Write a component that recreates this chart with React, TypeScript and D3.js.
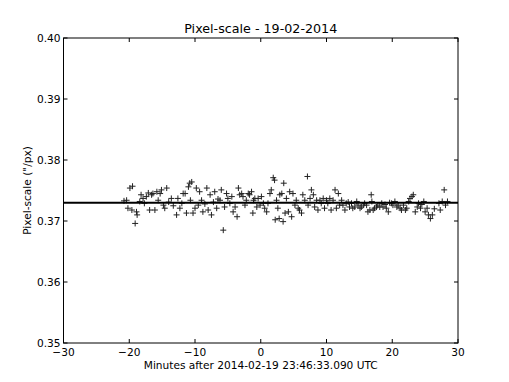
import React from 'react';
import * as d3 from 'd3';

// minutes after reference time
const minutes = [
  -20.8, -20.4, -20.2, -19.9, -19.5, -19.6, -19.1, -18.9, -18.8, -18.4, -18.2, -17.9, -17.7, -17.4, -17.1, -16.9,
  -16.6, -16.4, -16.1, -15.8, -15.6, -15.3, -15.1, -14.8, -14.6, -14.3, -14.0, -13.6, -13.3, -12.8, -12.6, -12.3,
  -12.0, -11.8, -11.5, -11.3, -11.0, -10.8, -10.7, -10.5, -10.3, -10.0, -9.8, -9.5, -9.3, -9.0, -8.8, -8.5,
  -8.2, -8.0, -7.7, -7.5, -7.2, -7.0, -6.7, -6.5, -6.2, -6.0, -5.7, -5.5, -5.2, -5.0, -4.7, -4.4,
  -4.2, -3.9, -3.6, -3.4, -3.2, -2.9, -2.7, -2.4, -2.2, -1.9, -1.7, -1.4, -1.2, -1.1, -0.9, -0.6,
  -0.4, -0.1, 0.1, 0.4, 0.6, 0.9, 1.1, 1.4, 1.6, 1.9, 2.1, 2.2, 2.4, 2.6, 2.8, 2.9,
  3.2, 3.4, 3.5, 3.7, 3.9, 4.2, 4.4, 4.7, 4.9, 5.2, 5.4, 5.7, 5.9, 6.2, 6.4, 6.7,
  7.1, 7.2, 7.5, 7.7, 8.0, 8.2, 8.5, 8.7, 9.0, 9.2, 9.5, 9.7, 10.0, 10.2, 10.5, 10.7,
  11.0, 11.3, 11.5, 11.8, 12.0, 12.3, 12.5, 12.8, 13.0, 13.3, 13.5, 13.8, 14.0, 14.3, 14.6, 14.8,
  15.1, 15.3, 15.6, 15.8, 16.1, 16.3, 16.6, 16.8, 16.9, 17.1, 17.3, 17.6, 17.8, 18.1, 18.4, 18.6,
  18.9, 19.1, 19.4, 19.6, 19.9, 20.1, 20.4, 20.7, 20.9, 21.2, 21.4, 21.7, 22.0, 22.2, 22.5, 22.7,
  23.0, 23.2, 23.5, 23.8, 24.0, 24.3, 24.5, 24.8, 25.0, 25.3, 25.5, 25.8, 26.1, 26.4, 27.1, 27.3,
  27.6, 27.9, 28.1, 28.4,
];

// measured pixel scale ("/px)
const pixelScale = [
  0.3733, 0.3734, 0.3721, 0.3754, 0.3757, 0.3718, 0.3696, 0.3715, 0.3710, 0.3732, 0.3743, 0.3737, 0.3729, 0.3740, 0.3746, 0.3718,
  0.3743, 0.3745, 0.3718, 0.3748, 0.3734, 0.3745, 0.3751, 0.3726, 0.3721, 0.3754, 0.3731, 0.3737, 0.3725, 0.3710, 0.3737, 0.3721,
  0.3729, 0.3745, 0.3745, 0.3713, 0.3756, 0.3762, 0.3734, 0.3764, 0.3713, 0.3721, 0.3754, 0.3726, 0.3748, 0.3734, 0.3715, 0.3728,
  0.3754, 0.3718, 0.3743, 0.3710, 0.3731, 0.3748, 0.3721, 0.3736, 0.3734, 0.3751, 0.3685, 0.3723, 0.3745, 0.3737, 0.3729, 0.3740,
  0.3715, 0.3723, 0.3707, 0.3754, 0.3743, 0.3745, 0.3740, 0.3726, 0.3734, 0.3745, 0.3743, 0.3748, 0.3713, 0.3734, 0.3737, 0.3723,
  0.3737, 0.3726, 0.3740, 0.3729, 0.3721, 0.3715, 0.3729, 0.3745, 0.3751, 0.3771, 0.3767, 0.3702, 0.3734, 0.3721, 0.3704, 0.3743,
  0.3745, 0.3699, 0.3762, 0.3713, 0.3737, 0.3715, 0.3748, 0.3707, 0.3745, 0.3726, 0.3734, 0.3721, 0.3718, 0.3713, 0.3743, 0.3734,
  0.3773, 0.3726, 0.3737, 0.3751, 0.3743, 0.3723, 0.3734, 0.3718, 0.3734, 0.3729, 0.3737, 0.3721, 0.3734, 0.3729, 0.3737, 0.3718,
  0.3734, 0.3751, 0.3721, 0.3745, 0.3726, 0.3734, 0.3726, 0.3718, 0.3729, 0.3731, 0.3723, 0.3729, 0.3721, 0.3723, 0.3732, 0.3726,
  0.3721, 0.3723, 0.3726, 0.3729, 0.3726, 0.3715, 0.3718, 0.3743, 0.3732, 0.3718, 0.3721, 0.3723, 0.3726, 0.3723, 0.3729, 0.3723,
  0.3727, 0.3721, 0.3715, 0.3730, 0.3729, 0.3726, 0.3732, 0.3723, 0.3726, 0.3721, 0.3718, 0.3726, 0.3718, 0.3721, 0.3732, 0.3737,
  0.3740, 0.3743, 0.3715, 0.3723, 0.3729, 0.3721, 0.3727, 0.3732, 0.3715, 0.3721, 0.3710, 0.3704, 0.3710, 0.3720, 0.3729, 0.3718,
  0.3732, 0.3751, 0.3726, 0.3732,
];

const meanScale = 0.373;
const xTicks = [-30, -20, -10, 0, 10, 20, 30];
const yTicks = [0.35, 0.36, 0.37, 0.38, 0.39, 0.40];

const W = 509;
const H = 382;
const margin = { left: 63.5, right: 51, top: 38, bottom: 39 };
const font = '"DejaVu Sans", sans-serif';

export default function App() {
  const x = d3.scaleLinear().domain([-30, 30]).range([margin.left, W - margin.right]);
  const y = d3.scaleLinear().domain([0.35, 0.4]).range([H - margin.bottom, margin.top]);
  const [x0, x1] = x.range();
  const [y0, y1] = y.range();
  const tick = 4;
  const m = 3;

  return (
    <svg width={W} height={H} style={{ position: 'absolute', left: 0, top: 0, background: '#fff' }}>
      <text x={(x0 + x1) / 2} y={33} textAnchor="middle" fontFamily={font} fontSize={12.7}>
        Pixel-scale - 19-02-2014
      </text>

      {/* points */}
      <g stroke="#222" strokeWidth={1}>
        {minutes.map((t, i) => {
          const cx = x(t);
          const cy = y(pixelScale[i]);
          return (
            <path key={i} d={`M${cx - m},${cy}H${cx + m}M${cx},${cy - m}V${cy + m}`} />
          );
        })}
      </g>

      {/* fitted value */}
      <line x1={x0} x2={x1} y1={y(meanScale)} y2={y(meanScale)} stroke="#000" strokeWidth={2} />

      {/* frame */}
      <rect x={x0} y={y1} width={x1 - x0} height={y0 - y1} fill="none" stroke="#000" strokeWidth={1} />

      {xTicks.map((t) => (
        <g key={'x' + t}>
          <line x1={x(t)} x2={x(t)} y1={y0} y2={y0 - tick} stroke="#000" />
          <line x1={x(t)} x2={x(t)} y1={y1} y2={y1 + tick} stroke="#000" />
          <text x={x(t)} y={y0 + 12.5} textAnchor="middle" fontFamily={font} fontSize={10.6}>
            {t < 0 ? '\u2212' + Math.abs(t) : t}
          </text>
        </g>
      ))}

      {yTicks.map((t) => (
        <g key={'y' + t}>
          <line x1={x0} x2={x0 + tick} y1={y(t)} y2={y(t)} stroke="#000" />
          <line x1={x1} x2={x1 - tick} y1={y(t)} y2={y(t)} stroke="#000" />
          <text x={x0 - 3} y={y(t) + 3.8} textAnchor="end" fontFamily={font} fontSize={10.6}>
            {t.toFixed(2)}
          </text>
        </g>
      ))}

      <text x={(x0 + x1) / 2} y={369} textAnchor="middle" fontFamily={font} fontSize={10.6}>
        Minutes after 2014-02-19 23:46:33.090 UTC
      </text>
      <text
        transform={`translate(31,${(y0 + y1) / 2}) rotate(-90)`}
        textAnchor="middle"
        fontFamily={font}
        fontSize={10.6}
      >
        Pixel-scale ("/px)
      </text>
    </svg>
  );
}
